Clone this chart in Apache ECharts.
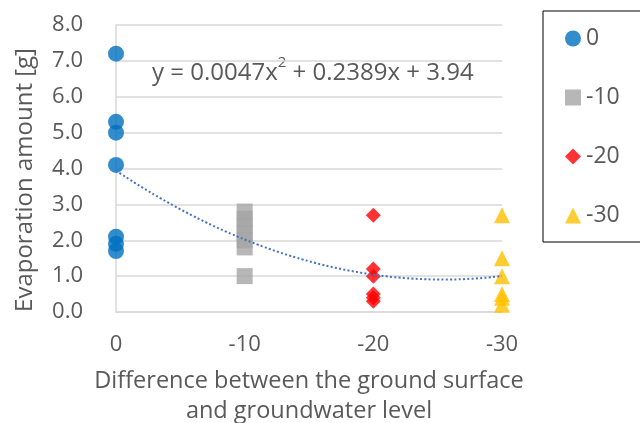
<!DOCTYPE html>
<html><head><meta charset="utf-8">
<script src="https://cdn.jsdelivr.net/npm/echarts@6/dist/echarts.min.js"></script>
<style>html,body{margin:0;padding:0;background:#fff}#c{width:640px;height:423px}</style>
</head><body><div id="c"></div>
<script>
const xTicks = [0, -10, -20, -30];
const level0 = [7.2, 5.3, 5.0, 4.1, 2.1, 1.9, 1.7];
const level10 = [1.0, 1.8, 2.0, 2.2, 2.4, 2.6, 2.8];
const level20 = [2.7, 1.2, 1.0, 0.5, 0.4, 0.3];
const level30 = [2.7, 1.5, 1.0, 0.5, 0.4, 0.2];
const trendCoef = [0.0047, 0.2389, 3.94]; // a, b, c
const seriesNames = ['0', '-10', '-20', '-30'];
const yTitle = 'Evaporation amount [g]';
const xTitle = 'Difference between the ground surface\nand groundwater level';

const FONT = 'Open Sans';
const pts = (x, arr) => arr.map(v => [x, v]);
const trend = [];
for (let x = 0; x >= -30; x -= 0.5) trend.push([x, trendCoef[0]*x*x + trendCoef[1]*x + trendCoef[2]]);

const chart = echarts.init(document.getElementById('c'));
chart.setOption({
  animation: false,
  textStyle: { fontFamily: FONT },
  grid: { left: 116, right: 138, top: 25, bottom: 111, outerBoundsMode: 'none', containLabel: false },
  xAxis: {
    type: 'value', inverse: true, min: -30, max: 0, interval: 10,
    axisLine: { show: true, lineStyle: { color: '#d9d9d9', width: 1.5 } },
    axisTick: { show: false }, splitLine: { show: false },
    axisLabel: { color: '#595959', fontSize: 22, margin: 22, fontFamily: FONT },
    name: xTitle,
    nameLocation: 'middle', nameGap: 54,
    nameTextStyle: { color: '#595959', fontSize: 23.5, lineHeight: 30, fontFamily: FONT }
  },
  yAxis: {
    type: 'value', min: 0, max: 8, interval: 1,
    axisLine: { show: true, lineStyle: { color: '#d9d9d9', width: 1.5 } },
    axisTick: { show: false },
    splitLine: { lineStyle: { color: '#d9d9d9', width: 1.5 } },
    axisLabel: { color: '#595959', fontSize: 22, margin: 33, fontFamily: FONT, formatter: v => v.toFixed(1) }
  },
  legend: {
    orient: 'vertical', left: 543, top: 11,
    data: seriesNames,
    padding: [16, 80, 15, 22],
    itemGap: 36, itemWidth: 16, itemHeight: 16,
    borderColor: '#000', borderWidth: 1,
    textStyle: { color: '#595959', fontSize: 23, lineHeight: 20, fontFamily: FONT }
  },
  graphic: [{
    type: 'text', left: 152, top: 55,
    style: {
      text: '{a|y = 0.0047x}{s|2}{a| + 0.2389x + 3.94}',
      rich: {
        a: { fill: '#595959', fontSize: 24, fontFamily: FONT, lineHeight: 30, verticalAlign: 'bottom' },
        s: { fill: '#595959', fontSize: 15, fontFamily: FONT, lineHeight: 30, verticalAlign: 'top' }
      }
    }
  }, {
    type: 'text', x: 25, y: 180, rotation: Math.PI / 2,
    style: { text: yTitle, fill: '#595959', font: '24px "Open Sans"', align: 'center', verticalAlign: 'middle' }
  }],
  series: [
    { name: seriesNames[0], type: 'scatter', symbol: 'circle', symbolSize: 16, data: pts(xTicks[0], level0), itemStyle: { color: '#0070C0' } },
    { name: seriesNames[1], type: 'scatter', symbol: 'rect', symbolSize: 16, data: pts(xTicks[1], level10), itemStyle: { color: '#A5A5A5' } },
    { name: seriesNames[2], type: 'scatter', symbol: 'diamond', symbolSize: 15, data: pts(xTicks[2], level20), itemStyle: { color: '#FF0000' } },
    { name: seriesNames[3], type: 'scatter', symbol: 'triangle', symbolSize: 16, data: pts(xTicks[3], level30), itemStyle: { color: '#FFC000' } },
    { name: 'trend', type: 'line', data: trend, showSymbol: false, smooth: true, z: 5,
      lineStyle: { color: '#4472C4', width: 2, type: [2, 2.3] } }
  ]
});
</script></body></html>
